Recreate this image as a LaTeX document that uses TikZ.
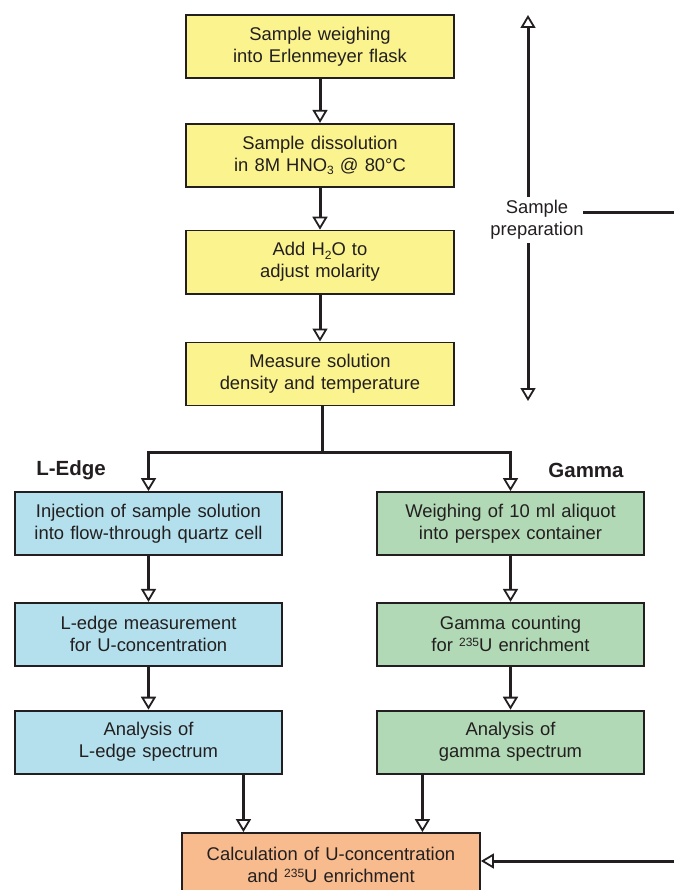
\documentclass[tikz,border=0pt]{standalone}
\usepackage{fontspec}
\setmainfont{Liberation Sans}
\usetikzlibrary{positioning,calc,arrows.meta}
\definecolor{prepcol}{HTML}{FAF38E}
\definecolor{ledgecol}{HTML}{B3E0EC}
\definecolor{gammacol}{HTML}{B1D9B5}
\definecolor{calccol}{HTML}{F8BB8E}
\definecolor{inkcol}{HTML}{231F20}
\newcommand{\sub}[1]{\raisebox{-0.35ex}{\fontsize{12}{12}\selectfont #1}}
\newcommand{\iso}[1]{\raisebox{0.55ex}{\fontsize{12}{12}\selectfont #1}}

\begin{document}
\begin{tikzpicture}[
	x=1pt, y=-1pt,
	rect/.style={
		draw=inkcol,
		line width=1.8pt,
		rectangle,
		minimum height=63pt,
		text width=260pt,
		align=center,
		inner sep=0pt,
	},
	preprect/.style={
		rect,
		fill=prepcol,
		minimum width=268pt,
	},
	ledgerect/.style={
		rect,
		fill=ledgecol,
		minimum width=267pt,
	},
	gammarect/.style={
		rect,
		fill=gammacol,
		minimum width=267pt,
	},
	calcrect/.style={
		rect,
		fill=calccol,
		minimum width=298pt,
		minimum height=64pt,
	},
	arr/.style={
		draw=inkcol,
		line width=3pt,
		-{Triangle[open,length=13pt,width=15pt,line width=1.8pt]},
	},
	font=\fontsize{18.4}{22}\selectfont,
	text=inkcol,
]
\useasboundingbox (0,0) rectangle (674,890);
\clip (0,0) rectangle (674,890);

% sample preparation
\node [preprect] (weigh) at (320,46.5) {Sample weighing\\into Erlenmeyer flask};
\node [preprect, below=44pt of weigh] (dissolve) {Sample dissolution\\in 8M HNO\sub{3} @ 80°C};
\node [preprect, below=42pt of dissolve] (water) {Add H\sub{2}O to\\adjust molarity};
\node [preprect, below=47pt of water] (measure) {Measure solution\\density and temperature};

% L-edge branch
\node [ledgerect] (inject) at (148.5,523.5) {Injection of sample solution\\into flow-through quartz cell};
\node [ledgerect, below=46pt of inject] (lmeas) {L-edge measurement\\for U-concentration};
\node [ledgerect, below=43pt of lmeas] (lana) {Analysis of\\L-edge spectrum};

% gamma branch
\node [gammarect] (aliquot) at (510.5,523.5) {Weighing of 10 ml aliquot\\into perspex container};
\node [gammarect, below=46pt of aliquot] (gcount) {Gamma counting\\for \iso{235}U enrichment};
\node [gammarect, below=43pt of gcount] (gana) {Analysis of\\gamma spectrum};

\node [calcrect] (calc) at (331,865) {Calculation of U-concentration\\and \iso{235}U enrichment};

\node [font=\fontsize{20.5}{22}\selectfont\bfseries] (ledge) at (71,470) {L-Edge};
\node [font=\fontsize{20.5}{22}\selectfont\bfseries] (gamma) at (586,470) {Gamma};

\node [align=center] (prep) at (537,220) {Sample\\preparation};

\coordinate (preptop) at (528,15);
\coordinate (prepbot) at (528,401);
\coordinate (prepout) at (674,213);
\coordinate (split) at (322,452);
\coordinate (calcin) at (674,861);
\coordinate (cin1) at ($(calc.north west)!.208!(calc.north east)$);
\coordinate (cin2) at ($(calc.north west)!.805!(calc.north east)$);

\draw [arr] (weigh) -- (dissolve);
\draw [arr] (dissolve) -- (water);
\draw [arr] (water) -- (measure);
\draw [arr] (measure.south -| split) -- (split) -| (inject.north);
\draw [arr] (split) -| (aliquot.north);
\draw [arr] (inject) -- (lmeas);
\draw [arr] (lmeas) -- (lana);
\draw [arr] (aliquot) -- (gcount);
\draw [arr] (gcount) -- (gana);
\draw [arr] (cin1 |- lana.south) -- (cin1);
\draw [arr] (cin2 |- gana.south) -- (cin2);
\draw [arr] (calcin) -- (calcin -| calc.east);

\draw [arr] (preptop |- prep.north) -- (preptop);
\draw [arr] (preptop |- prep.south) -- (prepbot);
\draw [draw=inkcol, line width=3pt] (prep.east |- prepout) ++(-4,0) -- (prepout);
\end{tikzpicture}
\end{document}
